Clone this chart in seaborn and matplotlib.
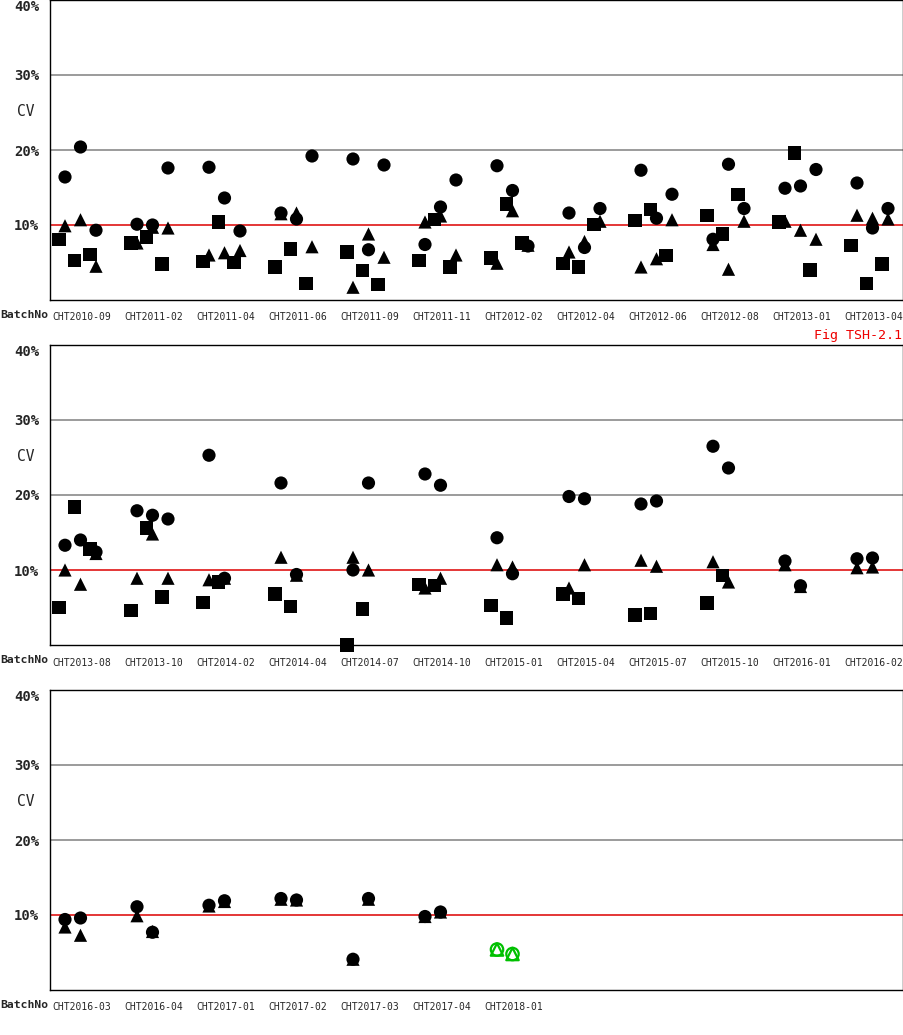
import numpy as np
import pandas as pd
import seaborn as sns
import matplotlib.pyplot as plt

# ---- data (CV in %, one value per level, per batch) ----
p1_batches = ["CHT2010-09", "CHT2011-02", "CHT2011-04", "CHT2011-06", "CHT2011-09", "CHT2011-11",
              "CHT2012-02", "CHT2012-04", "CHT2012-06", "CHT2012-08", "CHT2013-01", "CHT2013-04"]
p1_square = [[8.1, 5.3, 6.1], [7.6, 8.4, 4.8], [5.1, 10.4, 5.0], [4.4, 6.8, 2.2],
             [6.4, 3.9, 2.1], [5.3, 10.7, 4.4], [5.6, 12.8, 7.6], [4.9, 4.4, 10.1],
             [10.6, 12.1, 5.9], [11.3, 8.8, 14.1], [10.4, 19.6, 4.0], [7.3, 2.2, 4.8]]
p1_triangle = [[9.9, 10.7, 4.5], [7.6, 9.7, 9.6], [6.0, 6.3, 6.6], [11.5, 11.6, 7.1],
               [1.7, 8.8, 5.7], [10.4, 11.2, 6.0], [4.9, 11.9, 7.3], [6.4, 7.8, 10.5],
               [4.4, 5.5, 10.7], [7.4, 4.1, 10.5], [10.5, 9.3, 8.1], [11.3, 10.9, 10.8]]
p1_circle = [[16.4, 20.4, 9.3], [10.1, 10.0, 17.6], [17.7, 13.6, 9.2], [11.6, 10.8, 19.2],
             [18.8, 6.7, 18.0], [7.4, 12.4, 16.0], [17.9, 14.6, 7.2], [11.6, 7.0, 12.2],
             [17.3, 10.9, 14.1], [8.1, 18.1, 12.2], [14.9, 15.2, 17.4], [15.6, 9.6, 12.2]]

p2_batches = ["CHT2013-08", "CHT2013-10", "CHT2014-02", "CHT2014-04", "CHT2014-07", "CHT2014-10",
              "CHT2015-01", "CHT2015-04", "CHT2015-07", "CHT2015-10", "CHT2016-01", "CHT2016-02"]
p2_square = [[5.0, 18.4, 12.8], [4.6, 15.6, 6.4], [5.7, 8.4], [6.8, 5.1], [0.0, 4.8], [8.1, 7.9],
             [5.3, 3.6], [6.8, 6.2], [4.0, 4.2], [5.6, 9.3], [None, None], [None, None]]
p2_triangle = [[10.0, 8.1, 12.2], [8.9, 14.8, 8.9], [8.7, 8.9], [11.7, 9.3], [11.7, 10.0], [7.6, 8.9],
               [10.7, 10.4], [7.6, 10.7], [11.3, 10.5], [11.1, 8.4], [10.7, 7.8], [10.3, 10.4]]
p2_circle = [[13.3, 14.0, 12.4], [17.9, 17.3, 16.8], [25.3, 8.9], [21.6, 9.4], [10.0, 21.6], [22.8, 21.3],
             [14.3, 9.5], [19.8, 19.5], [18.8, 19.2], [26.5, 23.6], [11.2, 7.9], [11.5, 11.6]]

p3_batches = ["CHT2016-03", "CHT2016-04", "CHT2017-01", "CHT2017-02", "CHT2017-03", "CHT2017-04", "CHT2018-01"]
p3_triangle = [[8.4, 7.3], [9.9, 7.8], [11.2, 11.8], [12.1, 12.0], [4.1, 12.1], [9.8, 10.4], [5.4, 4.8]]
p3_circle = [[9.4, 9.6], [11.1, 7.7], [11.3, 11.9], [12.2, 12.0], [4.1, 12.2], [9.8, 10.4], [5.4, 4.8]]

current_batch = "CHT2018-01"
y_ticks = [10, 20, 30, 40]

# layout (in units of one batch slot)
SQ_OFF = 9 / 72
CT_OFF = 15 / 72
LEVEL_STEP = 15.5 / 72
X_MAX = 853 / 72

sns.set_style("white")
plt.rcParams["font.family"] = ["DejaVu Sans Mono"]

W, H = 904, 1035
fig = plt.figure(figsize=(W / 100, H / 100), dpi=100)
markers = {"square": "s", "triangle": "^", "circle": "o"}


def long_table(batches, square, triangle, circle):
    rows = []
    for i, b in enumerate(batches):
        for k in range(len(circle[i])):
            base = i + LEVEL_STEP * k
            for stat, vals, off in (("square", square, SQ_OFF),
                                    ("triangle", triangle, CT_OFF),
                                    ("circle", circle, CT_OFF)):
                if vals is None or vals[i][k] is None:
                    continue
                rows.append(dict(x=base + off, cv=vals[i][k], stat=stat, batch=b))
    return pd.DataFrame(rows)


def panel(top_px, batches, square, triangle, circle, fig_label=None):
    ax = fig.add_axes([50 / W, 1 - (top_px + 300) / H, 853 / W, 300 / H])
    df = long_table(batches, square, triangle, circle)
    old = df[df["batch"] != current_batch]
    new = df[df["batch"] == current_batch]

    for v, c in ((10, "#dd0000"), (20, "#808080"), (30, "#808080")):
        ax.axhline(v, color=c, lw=1.1, zorder=1)

    sns.scatterplot(data=old, x="x", y="cv", style="stat", markers=markers,
                    color="black", s=90, linewidth=0, legend=False, ax=ax,
                    clip_on=False, zorder=3)
    if len(new):
        sns.scatterplot(data=new, x="x", y="cv", style="stat", markers=markers,
                        color="#00c000", facecolors="none", edgecolor="#00c000",
                        s=80, linewidth=1.6, legend=False, ax=ax, zorder=3)

    ax.set_xlim(0, X_MAX)
    ax.set_ylim(0, 40)
    ax.set_xticks(np.arange(len(batches)) + 2 / 72)
    ax.set_xticklabels(batches, ha="left", fontsize=7)
    ax.set_yticks(y_ticks)
    ax.set_yticklabels([f"{t}%" for t in y_ticks], fontsize=10, fontweight="bold")
    ax.get_yticklabels()[-1].set_va("top")
    ax.tick_params(length=0)
    ax.tick_params(axis="x", pad=9)
    ax.tick_params(axis="y", pad=8)
    ax.set_xlabel("")
    ax.set_ylabel("")
    for sp in ax.spines.values():
        sp.set_color("black")
        sp.set_linewidth(1.0)

    ax.text(-24 / 853, 25.1, "CV", transform=ax.get_yaxis_transform(),
            ha="center", va="center", fontsize=10.5)
    ax.text(-50 / 853, -15 / 300, "BatchNo", transform=ax.transAxes,
            ha="left", va="center", fontsize=8.2, fontweight="bold")
    if fig_label:
        ax.text(1.0, 10 / 300, fig_label, transform=ax.transAxes, ha="right",
                va="center", color="#ee0000", fontsize=9.6)
        ax.texts[-1].set_position((852 / 853, -35 / 300))
    return ax


panel(0, p1_batches, p1_square, p1_triangle, p1_circle, fig_label="Fig TSH-2.1")
panel(345, p2_batches, p2_square, p2_triangle, p2_circle)
panel(690, p3_batches, None, p3_triangle, p3_circle)

fig.savefig("out.png", dpi=100, facecolor="white")
